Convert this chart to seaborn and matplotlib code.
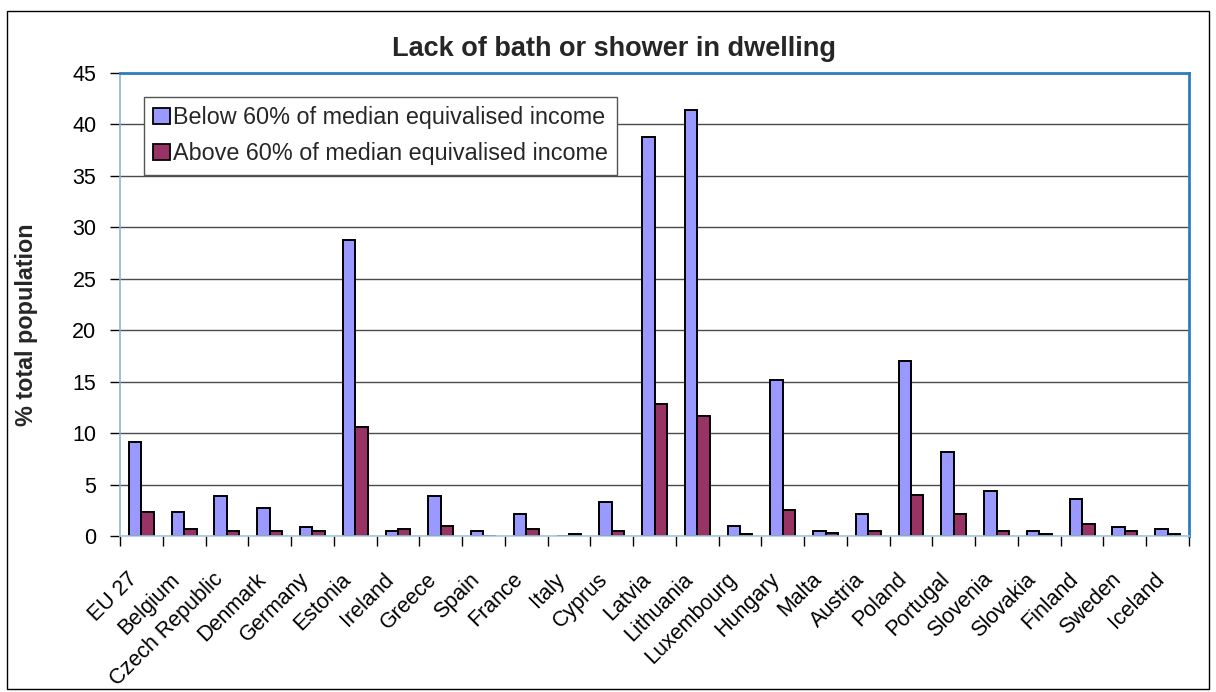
import numpy as np
import pandas as pd
import matplotlib
matplotlib.use("Agg")
import matplotlib.pyplot as plt
import matplotlib.transforms as mtransforms
from matplotlib.patches import Rectangle, Patch
import seaborn as sns

# Share of population lacking a bath or shower, by income group (%)
countries = ["EU 27", "Belgium", "Czech Republic", "Denmark", "Germany", "Estonia",
             "Ireland", "Greece", "Spain", "France", "Italy", "Cyprus", "Latvia",
             "Lithuania", "Luxembourg", "Hungary", "Malta", "Austria", "Poland",
             "Portugal", "Slovenia", "Slovakia", "Finland", "Sweden", "Iceland"]
below_60 = [9.1, 2.3, 3.9, 2.7, 0.9, 28.8, 0.5, 3.9, 0.5, 2.1, 0.0, 3.3, 38.8,
            41.4, 1.0, 15.2, 0.5, 2.1, 17.0, 8.2, 4.4, 0.5, 3.6, 0.9, 0.7]
above_60 = [2.3, 0.7, 0.5, 0.5, 0.5, 10.6, 0.7, 1.0, 0.0, 0.7, 0.2, 0.5, 12.8,
            11.7, 0.2, 2.5, 0.3, 0.5, 4.0, 2.1, 0.5, 0.2, 1.2, 0.5, 0.2]
series_names = ["Below 60% of median equivalised income",
                "Above 60% of median equivalised income"]
y_ticks = [0, 5, 10, 15, 20, 25, 30, 35, 40, 45]
title = "Lack of bath or shower in dwelling"
y_label = "% total population"

colors = ["#9999FF", "#993366"]

sns.set_style("white")
plt.rcParams["font.family"] = ["Liberation Sans", "DejaVu Sans"]

df = pd.DataFrame({
    "country": countries * 2,
    "group": [series_names[0]] * len(countries) + [series_names[1]] * len(countries),
    "value": below_60 + above_60,
})

W, H = 1216, 692
fig = plt.figure(figsize=(W / 100, H / 100), dpi=100)
ax_l, ax_r, ax_t, ax_b = 120, 1189, 73, 536
ax = fig.add_axes([ax_l / W, 1 - ax_b / H, (ax_r - ax_l) / W, (ax_b - ax_t) / H])

sns.barplot(data=df, x="country", y="value", hue="group", order=countries,
            hue_order=series_names, palette=colors, saturation=1, width=0.58,
            edgecolor="black", linewidth=1.4, errorbar=None, ax=ax)

ax.set_xlim(-0.5, len(countries) - 0.5)
ax.set_ylim(0, 45)
ax.set_yticks(y_ticks)
ax.set_xlabel("")
ax.set_ylabel("")
ax.yaxis.grid(True, color="#4a4a4a", linewidth=1)
ax.set_axisbelow(True)

# Plot-area frame
for side in ("top", "right"):
    ax.spines[side].set_color("#2E7EBB")
    ax.spines[side].set_linewidth(2)
ax.spines["left"].set_color("#8DB3D3")
ax.spines["left"].set_linewidth(1.2)
ax.spines["bottom"].set_color("#A8C8E0")
ax.spines["bottom"].set_linewidth(1.2)

# Ticks
ax.tick_params(axis="y", which="major", left=True, direction="out", length=7,
               width=1, color="black", pad=10, labelsize=15.5, labelcolor="black")
ax.set_xticks(np.arange(-0.5, len(countries), 1), minor=True)
ax.tick_params(axis="x", which="minor", bottom=True, direction="out", length=7,
               width=1, color="black")
ax.tick_params(axis="x", which="major", bottom=True, length=0, pad=29,
               labelsize=15.5, labelcolor="black")
shift = mtransforms.ScaledTranslation(-7 / 100, 0, fig.dpi_scale_trans)
for lbl in ax.get_xticklabels():
    lbl.set_rotation(45)
    lbl.set_ha("right")
    lbl.set_va("center")
    lbl.set_rotation_mode("anchor")
    lbl.set_transform(lbl.get_transform() + shift)

# Legend
handles = [Patch(facecolor=c, edgecolor="black", linewidth=1.3) for c in colors]
ax.legend(handles, series_names, loc="upper left", bbox_to_anchor=(0.0225, 0.948),
          borderaxespad=0, frameon=True, fancybox=False, edgecolor="#555555",
          framealpha=1, fontsize=16.8, handlelength=0.7, handleheight=0.7,
          handletextpad=0.12, borderpad=0.4, labelspacing=0.55)
ax.get_legend().get_frame().set_linewidth(1)

# Title and axis label
fig.text(614 / W, 1 - 56.5 / H, title, ha="center", va="baseline",
         fontsize=19.5, fontweight="bold")
fig.text(27 / W, 1 - 325 / H, y_label, rotation=90, ha="center", va="center",
         fontsize=16.8, fontweight="bold")

# Chart-area border
fig.patches.append(Rectangle((7 / W, 1 - 689 / H), (1209 - 7) / W, (689 - 11) / H,
                             transform=fig.transFigure, fill=False,
                             edgecolor="black", linewidth=1))

fig.savefig("out.png", dpi=100)
